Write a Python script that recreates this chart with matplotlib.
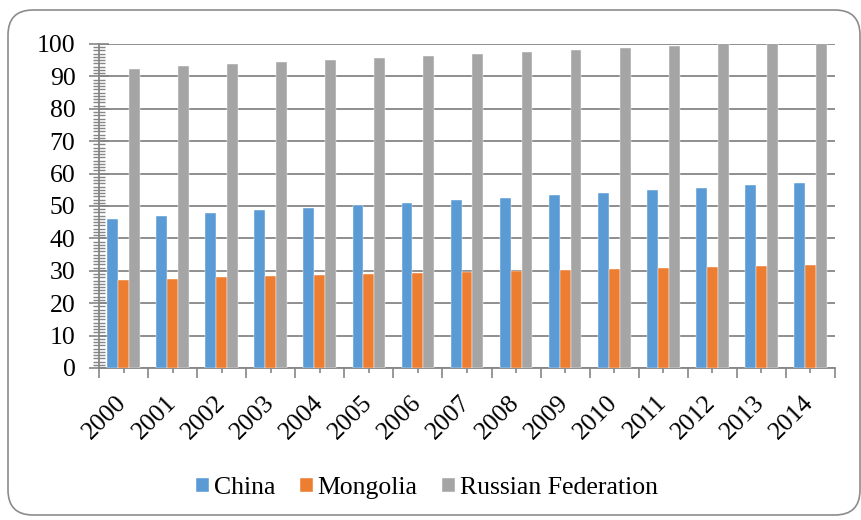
import matplotlib
matplotlib.use("Agg")
import matplotlib.pyplot as plt
import numpy as np
from matplotlib.patches import FancyBboxPatch
from matplotlib.transforms import IdentityTransform
from matplotlib.ticker import MultipleLocator, FixedLocator

years = ["2000", "2001", "2002", "2003", "2004", "2005", "2006", "2007",
         "2008", "2009", "2010", "2011", "2012", "2013", "2014"]
china = [46.0, 47.0, 47.8, 48.7, 49.5, 50.2, 51.0, 51.7, 52.5, 53.3, 54.1, 54.8, 55.7, 56.4, 57.1]
mongolia = [27.2, 27.6, 28.0, 28.4, 28.7, 29.0, 29.3, 29.7, 29.9, 30.2, 30.6, 31.0, 31.2, 31.5, 31.8]
russia = [92.4, 93.2, 93.9, 94.5, 95.2, 95.8, 96.4, 97.0, 97.5, 98.1, 98.7, 99.4, 100.2, 100.6, 101.0]
series_names = ["China", "Mongolia", "Russian Federation"]
colors = ["#5B9BD5", "#ED7D31", "#A5A5A5"]

FAM = 'Liberation Serif'
FS = 18.5
plt.rcParams['font.family'] = FAM

W, H = 862, 520
fig = plt.figure(figsize=(W / 100, H / 100), dpi=100)

# rounded chart border
border = FancyBboxPatch((8, 5), 852, 505, boxstyle="round,pad=0,rounding_size=25",
                        transform=IdentityTransform(), facecolor="none",
                        edgecolor="#8c8c8c", linewidth=1.2, zorder=5)
fig.patches.append(border)

ax = fig.add_axes([99 / W, 1 - 368 / H, (835 - 99) / W, (368 - 44) / H])
ax.set_facecolor("none")

x = np.arange(len(years))
bw = 1 / 4.5
for i, (vals, name, c) in enumerate(zip([china, mongolia, russia], series_names, colors)):
    ax.bar(x + (i - 1) * bw, vals, width=bw, color=c, label=name, zorder=3,
           edgecolor="white", linewidth=0.3)

ax.set_xlim(-0.5, len(years) - 0.5)
ax.set_ylim(0, 100)

gc = "#868686"
yt = list(range(0, 101, 10))
ax.yaxis.set_major_locator(FixedLocator(yt))
ax.yaxis.set_minor_locator(MultipleLocator(1))
ax.set_yticklabels([str(v) for v in yt], family=FAM, fontsize=FS)
ax.grid(axis="y", which="major", color=gc, linewidth=1.3, zorder=1)
ax.set_axisbelow(True)

ax.xaxis.set_major_locator(FixedLocator(x))
ax.xaxis.set_minor_locator(FixedLocator(np.arange(-0.5, len(years), 1.0)))
ax.set_xticklabels(years, rotation=45, ha="right", va="center", rotation_mode="anchor",
                   fontsize=FS, family=FAM)

ax.tick_params(axis="y", which="major", direction="inout", length=14, width=1.2, color=gc, pad=10)
ax.tick_params(axis="y", which="minor", direction="inout", length=8, width=1.0, color=gc)
ax.tick_params(axis="x", which="major", direction="inout", length=7, width=1.2, color=gc, pad=19)
ax.tick_params(axis="x", which="minor", direction="out", length=7, width=1.2, color=gc)

for s in ["top", "right"]:
    ax.spines[s].set_visible(False)
for s in ["left", "bottom"]:
    ax.spines[s].set_color(gc)
    ax.spines[s].set_linewidth(1.3)

fig.legend(loc="center", bbox_to_anchor=(427 / W, 1 - 488 / H), ncol=3, frameon=False,
           prop={"family": FAM, "size": FS}, handlelength=0.5, handleheight=0.5,
           handletextpad=0.2, columnspacing=0.95)

fig.savefig("out.png", dpi=100)
